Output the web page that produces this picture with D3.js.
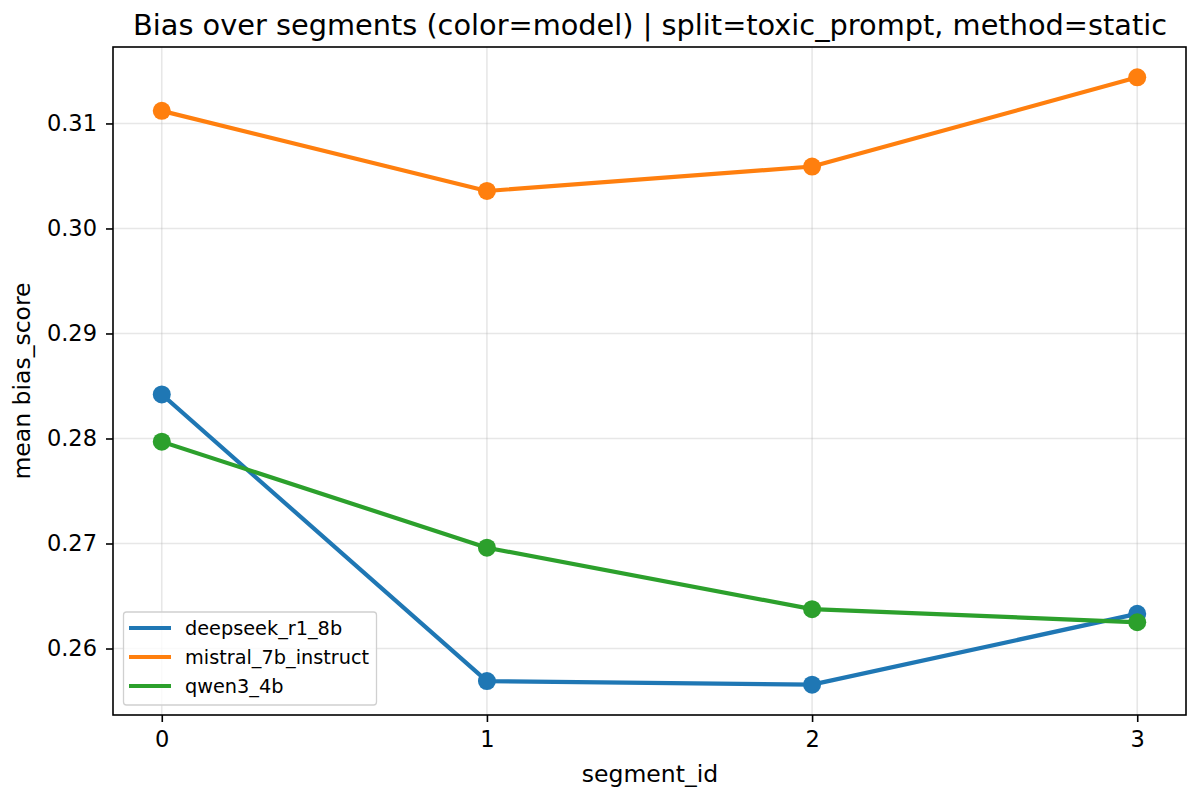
<!DOCTYPE html>
<html><head><meta charset="utf-8">
<script src="https://cdn.jsdelivr.net/npm/d3@7"></script>
<style>body{margin:0;background:#fff}svg text{font-family:"DejaVu Sans",sans-serif}</style>
</head><body><svg id="c" width="1192" height="791"></svg>
<script>
const segments = [0, 1, 2, 3];
const models = ["deepseek_r1_8b", "mistral_7b_instruct", "qwen3_4b"];
const colors = ["#1f77b4", "#ff7f0e", "#2ca02c"];
const deepseek = [0.2842, 0.2569, 0.25656, 0.2633];
const mistral = [0.3112, 0.30357, 0.3059, 0.31439];
const qwen = [0.2797, 0.2696, 0.26375, 0.2625];
const yTicks = [0.26, 0.27, 0.28, 0.29, 0.30, 0.31];
const series = [deepseek, mistral, qwen];

const svg = d3.select("#c");
const L = 113, R = 1186, T = 47, B = 715;
const x = d3.scaleLinear().domain([-0.15, 3.15]).range([L, R]);
const allV = series.flat();
const mn = d3.min(allV), mx = d3.max(allV), pad = (mx - mn) * 0.05;
const y = d3.scaleLinear().domain([mn - pad, mx + pad]).range([B, T]);

// grid
svg.append("g").selectAll("line").data(segments).join("line")
  .attr("x1", d => x(d)).attr("x2", d => x(d)).attr("y1", T).attr("y2", B)
  .attr("stroke", "#b0b0b0").attr("stroke-opacity", 0.3).attr("stroke-width", 1.6);
svg.append("g").selectAll("line").data(yTicks).join("line")
  .attr("x1", L).attr("x2", R).attr("y1", d => y(d)).attr("y2", d => y(d))
  .attr("stroke", "#b0b0b0").attr("stroke-opacity", 0.3).attr("stroke-width", 1.6);

// axes
const xAx = svg.append("g").attr("transform", `translate(0,${B})`)
  .call(d3.axisBottom(x).tickValues(segments).tickFormat(d3.format("d")).tickSize(7).tickPadding(9));
const yAx = svg.append("g").attr("transform", `translate(${L},0)`)
  .call(d3.axisLeft(y).tickValues(yTicks).tickFormat(d3.format(".2f")).tickSize(7).tickPadding(9));
[xAx, yAx].forEach(a => {
  a.select(".domain").remove();
  a.attr("font-size", 22.5).attr("font-family", "DejaVu Sans");
  a.selectAll("line").attr("stroke", "#000").attr("stroke-width", 1.6);
  a.selectAll("text").attr("fill", "#000");
});

// lines & points
const line = d3.line().x((d, i) => x(segments[i])).y(d => y(d));
series.forEach((s, k) => {
  svg.append("path").attr("d", line(s)).attr("fill", "none")
    .attr("stroke", colors[k]).attr("stroke-width", 4.2).attr("stroke-linejoin", "round").attr("stroke-linecap", "square");
  svg.append("g").selectAll("circle").data(s).join("circle")
    .attr("cx", (d, i) => x(segments[i])).attr("cy", d => y(d)).attr("r", 9).attr("fill", colors[k]);
});

// frame
svg.append("rect").attr("x", L).attr("y", T).attr("width", R - L).attr("height", B - T)
  .attr("fill", "none").attr("stroke", "#000").attr("stroke-width", 1.6);

// legend
const lg = svg.append("g");
lg.append("rect").attr("x", 123.5).attr("y", 612).attr("width", 253).attr("height", 93).attr("rx", 3)
  .attr("fill", "#fff").attr("fill-opacity", 0.8).attr("stroke", "#d0d0d0").attr("stroke-width", 1.3);
models.forEach((m, k) => {
  const yy = 628 + k * 29;
  lg.append("line").attr("x1", 129).attr("x2", 171).attr("y1", yy).attr("y2", yy)
    .attr("stroke", colors[k]).attr("stroke-width", 4.2);
  lg.append("text").attr("x", 185).attr("y", yy).attr("dy", "0.35em")
    .attr("font-size", 19.3).text(m);
});

// title and labels
svg.append("text").attr("x", 650).attr("y", 35).attr("text-anchor", "middle")
  .attr("font-size", 28.8).text("Bias over segments (color=model) | split=toxic_prompt, method=static");
svg.append("text").attr("x", 650).attr("y", 782).attr("text-anchor", "middle")
  .attr("font-size", 23.5).text("segment_id");
svg.append("text").attr("transform", `translate(30,${(T + B) / 2}) rotate(-90)`).attr("text-anchor", "middle")
  .attr("font-size", 23.5).text("mean bias_score");
</script></body></html>
